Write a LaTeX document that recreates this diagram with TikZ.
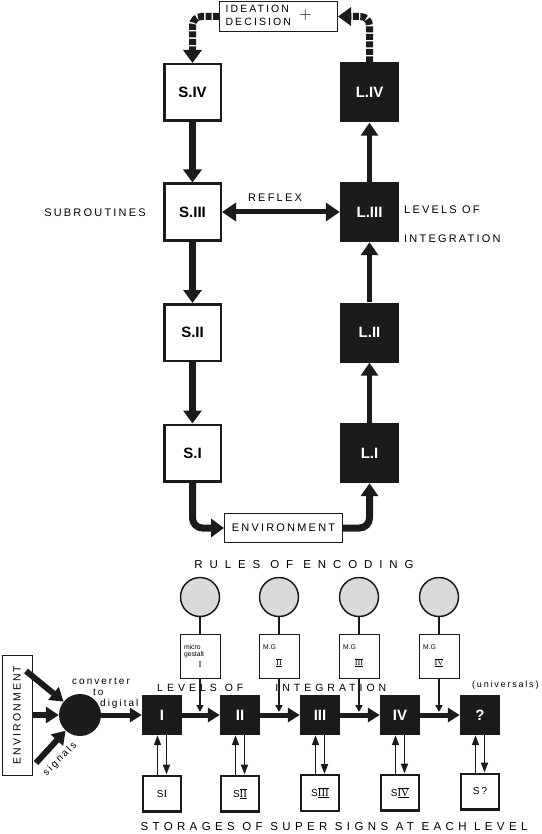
\documentclass[tikz,border=0pt]{standalone}
\usepackage{fontspec}
\setmainfont{Liberation Sans}
\newfontfamily\capsfont[LetterSpace=20]{Liberation Sans}
\newfontfamily\widecaps[LetterSpace=38]{Liberation Sans}
\newfontfamily\widestcaps[LetterSpace=60]{Liberation Sans}
\newfontfamily\numfont{Liberation Serif}
\usepackage{tikz}
\usetikzlibrary{arrows.meta, positioning}
\definecolor{InkBlack}{HTML}{1B1B1B}
\definecolor{DotGray}{HTML}{DADADA}
\newcommand{\romnum}[1]{\raisebox{-1.3pt}{\vbox{\hrule height 0.7pt\kern0.6pt\hbox{\numfont #1}\kern0.6pt\hrule height 0.7pt}}}
\tikzset{
  subbox/.style={draw=InkBlack,line width=2.5pt,fill=white,minimum width=56.5pt,minimum height=56.5pt,
    inner sep=0pt,font=\bfseries\fontsize{15}{15}\selectfont},
  levbox/.style={fill=InkBlack,text=white,minimum width=59pt,minimum height=60pt,inner sep=0pt,
    font=\bfseries\fontsize{15}{15}\selectfont},
  ideabox/.style={draw=InkBlack,line width=1pt,fill=white,minimum width=118pt,minimum height=30pt,
    inner sep=0pt,font=\capsfont\fontsize{10.5}{12.5}\selectfont},
  envbox/.style={draw=InkBlack,line width=1pt,fill=white,minimum width=118pt,minimum height=29pt,
    inner sep=0pt,font=\capsfont\fontsize{11}{13}\selectfont},
  caps/.style={inner sep=0pt,font=\capsfont\fontsize{11}{13}\selectfont},
  widecapsline/.style={inner sep=0pt,font=\widecaps\fontsize{10.5}{12}\selectfont},
  widestline/.style={inner sep=0pt,font=\widestcaps\fontsize{11.5}{13}\selectfont},
  smalltext/.style={inner sep=0pt,font=\capsfont\fontsize{10}{11}\selectfont},
  rulecirc/.style={circle,draw=InkBlack,line width=1.5pt,fill=DotGray,minimum size=39pt,inner sep=0pt},
  mgbox/.style={draw=InkBlack,line width=0.9pt,fill=white,minimum width=40pt,minimum height=44pt,
    text width=32pt,align=center,inner sep=0pt,font=\fontsize{6.8}{7.8}\selectfont},
  convdot/.style={circle,fill=InkBlack,minimum size=42pt,inner sep=0pt},
  levelbox/.style={fill=InkBlack,text=white,minimum width=40pt,minimum height=40pt,inner sep=0pt,
    font=\bfseries\fontsize{15}{15}\selectfont},
  storebox/.style={draw=InkBlack,line width=2.3pt,fill=white,minimum width=37.7pt,minimum height=35.7pt,
    inner sep=0pt,font=\capsfont\fontsize{10}{12}\selectfont},
  envside/.style={draw=InkBlack,line width=1pt,rotate=90,minimum width=120pt,minimum height=30pt,
    inner sep=0pt,font=\capsfont\fontsize{10.5}{12}\selectfont},
  downarrow/.style={draw=InkBlack,line width=7pt,-{Triangle[width=18pt,length=13pt]}},
  uparrow/.style={draw=InkBlack,line width=5.5pt,-{Triangle[width=17pt,length=13pt]}},
  loopdash/.style={draw=InkBlack,line width=7pt,dash pattern=on 6pt off 1.5pt,rounded corners=9pt,
    -{Triangle[width=18pt,length=13pt]}},
  reflexarrow/.style={draw=InkBlack,line width=5pt,{Triangle[width=18pt,length=14pt]}-{Triangle[width=18pt,length=14pt]}},
  flowarrow/.style={draw=InkBlack,line width=5pt,-{Triangle[width=14pt,length=12pt]}},
  inarrow/.style={draw=InkBlack,line width=6pt,-{Triangle[width=16pt,length=13pt]}},
  mgline/.style={draw=InkBlack,line width=1.5pt},
  mgarrow/.style={draw=InkBlack,line width=1.5pt,-{Triangle[width=7pt,length=7pt]}},
  storearrow/.style={draw=InkBlack,line width=1.8pt,-{Triangle[width=7pt,length=10pt]}}
}

\begin{document}
\begin{tikzpicture}[x=1pt,y=-1pt]
\useasboundingbox (0,0) rectangle (541,834);

\node[ideabox] (ideation) at (278.5,16.5) {\begin{tabular}{@{}l@{}}IDEATION\\DECISION\end{tabular}\hspace{8pt}{\fontsize{18}{18}\selectfont$+$}\hspace*{20pt}};

\node[subbox] (s4) at (192.5,92.5) {S.IV};
\node[subbox] (s3) at (192.5,212) {S.III};
\node[subbox] (s2) at (192.5,332.5) {S.II};
\node[subbox] (s1) at (192.5,453) {S.I};
\node[levbox] (l4) at (369.5,92.5) {L.IV};
\node[levbox] (l3) at (369.5,212) {L.III};
\node[levbox] (l2) at (369.5,332.5) {L.II};
\node[levbox] (l1) at (369.5,453) {L.I};
\node[envbox] (env) at (283.5,528) {ENVIRONMENT};

\node[caps] (subr) at (95,213) {SUBROUTINES};
\node[caps,anchor=west,align=left,font=\capsfont\fontsize{11}{29}\selectfont] (levels) at (404,224) {LEVELS OF\\INTEGRATION};

\draw[downarrow] (s4) -- (s3);
\draw[downarrow] (s3) -- (s2);
\draw[downarrow] (s2) -- (s1);
\draw[uparrow] (l1) -- (l2);
\draw[uparrow] (l2) -- (l3);
\draw[uparrow] (l3) -- (l4);
\draw[reflexarrow] (s3) -- node[caps,above=8pt,pos=0.45] {REFLEX} (l3);
\draw[loopdash] (ideation.west) -| (s4.north);
\draw[loopdash] (l4.north) |- (ideation.east);
\draw[downarrow,rounded corners=10pt] (s1) |- (env);
\draw[uparrow,line width=7pt,rounded corners=10pt] (env) -| (l1);

\node[widestline] (rules) at (304,565) {RULES OF ENCODING};
\node[rulecirc] (enc1) at (200,597) {};
\node[rulecirc] (enc2) at (279,597) {};
\node[rulecirc] (enc3) at (359,597) {};
\node[rulecirc] (enc4) at (439,597) {};
\node[mgbox] (mg1) at (200,656) {\makebox[32pt][l]{micro}\\\makebox[32pt][l]{gestalt}\\[3pt]{\numfont\fontsize{9}{9}\selectfont I}};
\node[mgbox] (mg2) at (279,656) {\makebox[32pt][l]{M.G}\\[8pt]{\fontsize{8.5}{8.5}\selectfont\romnum{II}}};
\node[mgbox] (mg3) at (359,656) {\makebox[32pt][l]{M.G}\\[8pt]{\fontsize{8.5}{8.5}\selectfont\romnum{III}}};
\node[mgbox] (mg4) at (439,656) {\makebox[32pt][l]{M.G}\\[8pt]{\fontsize{8.5}{8.5}\selectfont\romnum{IV}}};

\node[envside] (envside) at (17,715) {ENVIRONMENT};
\node[convdot] (conv) at (80,715) {};
\node[levelbox] (lv1) at (162,715) {I};
\node[levelbox] (lv2) at (240,715) {II};
\node[levelbox] (lv3) at (320,715) {III};
\node[levelbox] (lv4) at (400,715) {IV};
\node[levelbox] (lv5) at (480,715) {?};
\node[storebox] (st1) at (162,793.5) {S{\numfont\fontsize{11}{11}\selectfont I}};
\node[storebox] (st2) at (240,793.5) {S{\fontsize{11}{11}\selectfont\romnum{II}}};
\node[storebox] (st3) at (320,793) {S{\fontsize{11}{11}\selectfont\romnum{III}}};
\node[storebox] (st4) at (400,792.5) {S{\fontsize{11}{11}\selectfont\romnum{IV}}};
\node[storebox] (st5) at (480,791.5) {S?};

\node[widecapsline,anchor=west] (levrow) at (157,688) {LEVELS\hspace{8pt}OF\hspace{32pt}INTEGRATION};
\node[smalltext,anchor=west,font=\capsfont\fontsize{9}{11}\selectfont] (universals) at (472,685) {(universals)};
\node[smalltext,anchor=north west,align=left] (converter) at (72,678) {converter\\\hspace*{21pt}to\\\hspace*{28pt}digital};
\node[smalltext,rotate=45] (signals) at (60,759) {signals};
\node[widecapsline,font=\widecaps\fontsize{11.5}{13}\selectfont] (storages) at (334,827) {STORAGES OF SUPER SIGNS AT EACH LEVEL};

\coordinate (srcA) at (26,671);
\coordinate (srcB) at (33,715);
\coordinate (srcC) at (36,763);
\draw[inarrow] (srcA) -- (conv);
\draw[inarrow] (srcB) -- (conv);
\draw[inarrow] (srcC) -- (conv);

\draw[flowarrow] (conv) -- (lv1);
\draw[flowarrow] (lv1) -- (lv2);
\draw[flowarrow] (lv2) -- (lv3);
\draw[flowarrow] (lv3) -- (lv4);
\draw[flowarrow] (lv4) -- (lv5);

\coordinate (j1) at (200,712);
\coordinate (j2) at (279,712);
\coordinate (j3) at (359,712);
\coordinate (j4) at (439,712);
\draw[mgline] (enc1) -- (mg1);
\draw[mgline] (enc2) -- (mg2);
\draw[mgline] (enc3) -- (mg3);
\draw[mgline] (enc4) -- (mg4);
\draw[mgarrow] (mg1) -- (j1);
\draw[mgarrow] (mg2) -- (j2);
\draw[mgarrow] (mg3) -- (j3);
\draw[mgarrow] (mg4) -- (j4);

\draw[storearrow] ([xshift=-4.5pt]st1.north) -- ([xshift=-4.5pt]lv1.south);
\draw[storearrow] ([xshift=4.5pt]lv1.south) -- ([xshift=4.5pt]st1.north);
\draw[storearrow] ([xshift=-4.5pt]st2.north) -- ([xshift=-4.5pt]lv2.south);
\draw[storearrow] ([xshift=4.5pt]lv2.south) -- ([xshift=4.5pt]st2.north);
\draw[storearrow] ([xshift=-4.5pt]st3.north) -- ([xshift=-4.5pt]lv3.south);
\draw[storearrow] ([xshift=4.5pt]lv3.south) -- ([xshift=4.5pt]st3.north);
\draw[storearrow] ([xshift=-4.5pt]st4.north) -- ([xshift=-4.5pt]lv4.south);
\draw[storearrow] ([xshift=4.5pt]lv4.south) -- ([xshift=4.5pt]st4.north);
\draw[storearrow] ([xshift=-4.5pt]st5.north) -- ([xshift=-4.5pt]lv5.south);
\draw[storearrow] ([xshift=4.5pt]lv5.south) -- ([xshift=4.5pt]st5.north);
\end{tikzpicture}
\end{document}
